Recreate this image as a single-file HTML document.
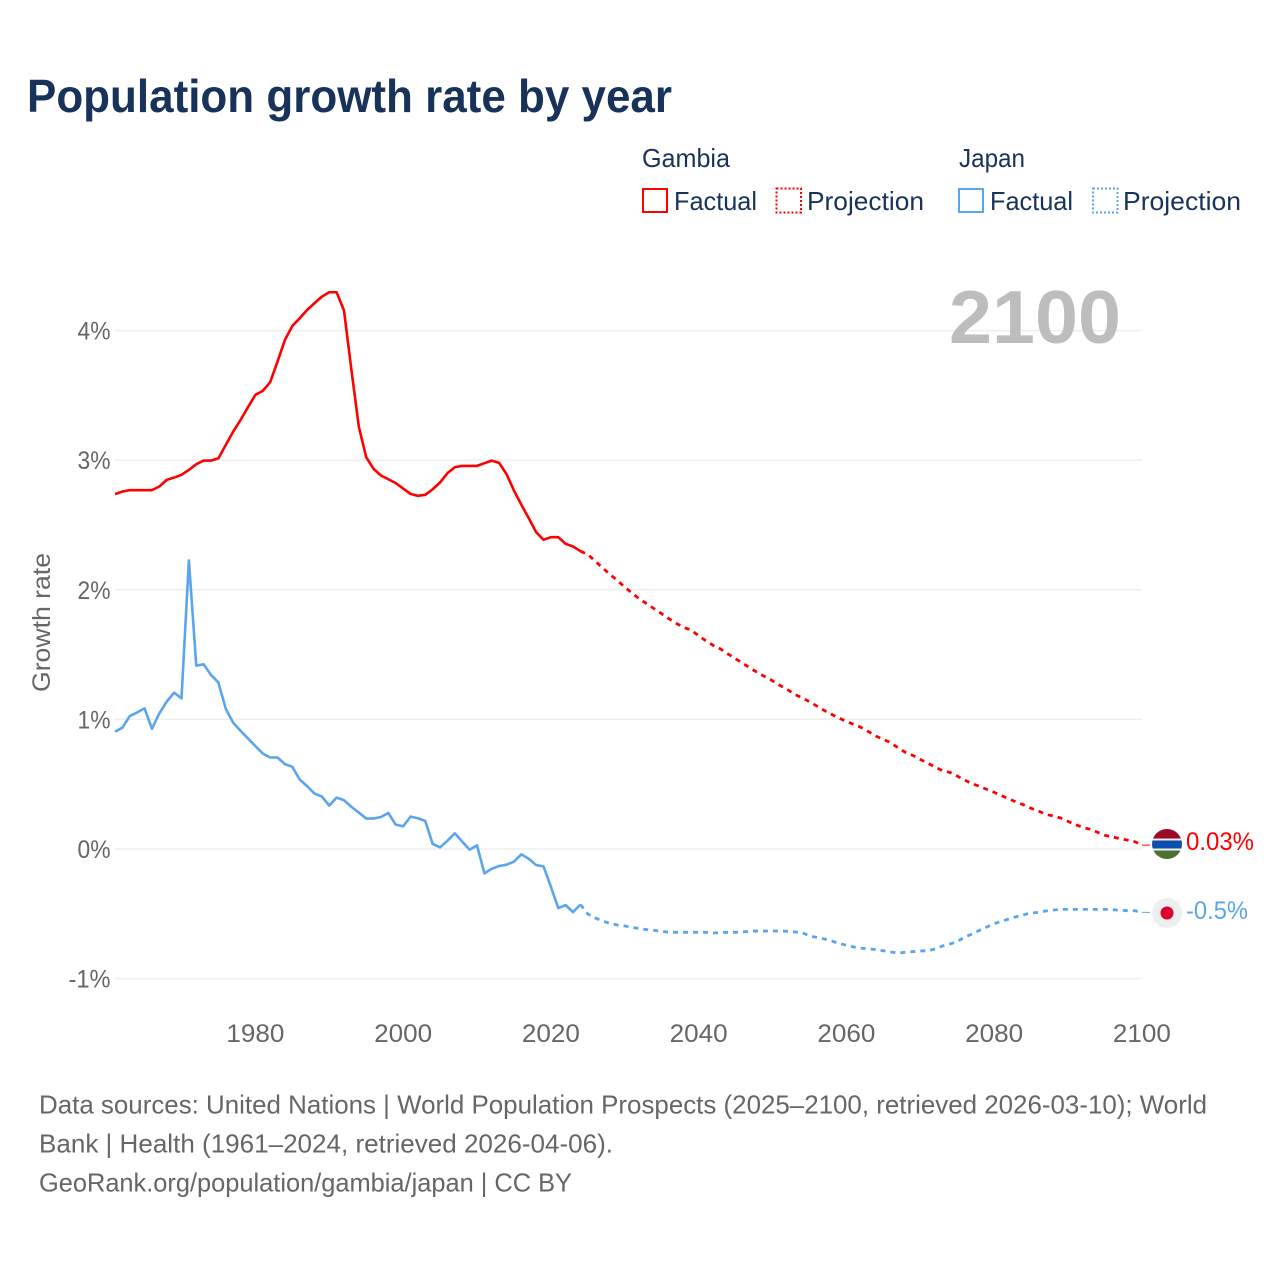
<!DOCTYPE html>
<html lang="en">
<head>
<meta charset="utf-8">
<title>Population growth rate by year</title>
<style>
html,body{margin:0;padding:0;background:#fff;}
svg{display:block;}
text{font-family:"Liberation Sans",sans-serif;}
</style>
</head>
<body>
<svg id="chart" xmlns="http://www.w3.org/2000/svg" width="1280" height="1280" viewBox="0 0 1280 1280">
  <rect x="0" y="0" width="1280" height="1280" fill="#ffffff"/>
  <text x="27" y="112" font-size="46" font-weight="700" fill="#18325a" textLength="645" lengthAdjust="spacingAndGlyphs">Population growth rate by year</text>

  <g font-size="26" fill="#18325a">
    <text x="642" y="167" textLength="88" lengthAdjust="spacingAndGlyphs">Gambia</text>
    <text x="959" y="167" textLength="66" lengthAdjust="spacingAndGlyphs">Japan</text>
    <rect x="643" y="189" width="24" height="23" fill="none" stroke="#ff0000" stroke-width="2"/>
    <text x="674" y="210" textLength="83" lengthAdjust="spacingAndGlyphs">Factual</text>
    <rect x="776.5" y="188.5" width="24.5" height="24" fill="none" stroke="#ff0000" stroke-width="2" stroke-dasharray="2 2"/>
    <text x="807" y="210" textLength="117" lengthAdjust="spacingAndGlyphs">Projection</text>
    <rect x="959" y="189" width="24" height="23" fill="none" stroke="#5ba4ee" stroke-width="2"/>
    <text x="990" y="210" textLength="83" lengthAdjust="spacingAndGlyphs">Factual</text>
    <rect x="1093" y="188.5" width="24.5" height="24" fill="none" stroke="#5ba4ee" stroke-width="2" stroke-dasharray="2 2"/>
    <text x="1123" y="210" textLength="118" lengthAdjust="spacingAndGlyphs">Projection</text>
  </g>

  <g id="grid"></g>
  <text x="949" y="343" font-size="75" font-weight="700" fill="#bdbdbd" textLength="172" lengthAdjust="spacingAndGlyphs">2100</text>
  <g id="yticks" font-size="25" fill="#666666"></g>
  <g id="xticks" font-size="25" fill="#666666"></g>
  <text transform="translate(50,622.5) rotate(-90)" text-anchor="middle" font-size="25" fill="#666666" textLength="139" lengthAdjust="spacingAndGlyphs">Growth rate</text>
  <g id="series"></g>

  <g>
    <clipPath id="gm-clip"><circle cx="1167" cy="844" r="15"/></clipPath>
    <g clip-path="url(#gm-clip)">
      <rect x="1152" y="829" width="30" height="9.5" fill="#9a0a27"/>
      <rect x="1152" y="838.5" width="30" height="2" fill="#f4e8ea"/>
      <rect x="1152" y="840.5" width="30" height="8" fill="#0a50b0"/>
      <rect x="1152" y="848.5" width="30" height="2" fill="#eef2ea"/>
      <rect x="1152" y="850.5" width="30" height="8.5" fill="#4b7030"/>
    </g>
  </g>
  <g>
    <circle cx="1167" cy="913" r="15" fill="#eeeeee"/>
    <circle cx="1167" cy="913" r="6.5" fill="#dc002e"/>
  </g>
  <text id="label-gambia" x="1186" y="850" font-size="25" fill="#ff0000" textLength="68" lengthAdjust="spacingAndGlyphs">0.03%</text>
  <text id="label-japan" x="1186" y="919" font-size="25" fill="#5ba4ee" textLength="62" lengthAdjust="spacingAndGlyphs">-0.5%</text>

  <g font-size="26" fill="#666666">
    <text x="39" y="1113.5" textLength="1168" lengthAdjust="spacingAndGlyphs">Data sources: United Nations | World Population Prospects (2025–2100, retrieved 2026-03-10); World</text>
    <text x="39" y="1152.5" textLength="574" lengthAdjust="spacingAndGlyphs">Bank | Health (1961–2024, retrieved 2026-04-06).</text>
    <text x="39" y="1191.5" textLength="533" lengthAdjust="spacingAndGlyphs">GeoRank.org/population/gambia/japan | CC BY</text>
  </g>
</svg>
<script>
const factualStartYear = 1961;
const projectionStartYear = 2024;
const gambiaFactual = [2.738,2.758,2.769,2.769,2.769,2.769,2.797,2.848,2.866,2.887,2.925,2.969,2.997,2.997,3.015,3.118,3.221,3.311,3.409,3.504,3.535,3.602,3.761,3.928,4.036,4.095,4.159,4.211,4.262,4.296,4.296,4.154,3.697,3.26,3.023,2.933,2.882,2.853,2.823,2.781,2.74,2.725,2.733,2.776,2.828,2.9,2.946,2.956,2.956,2.956,2.977,2.997,2.979,2.892,2.766,2.656,2.553,2.445,2.386,2.406,2.406,2.355,2.334,2.298];
const japanFactual = [0.905,0.936,1.026,1.054,1.085,0.928,1.046,1.137,1.206,1.162,2.227,1.415,1.425,1.343,1.284,1.08,0.974,0.912,0.853,0.794,0.737,0.706,0.706,0.655,0.634,0.536,0.485,0.428,0.405,0.335,0.397,0.376,0.325,0.281,0.235,0.235,0.247,0.278,0.188,0.175,0.25,0.237,0.216,0.039,0.013,0.064,0.121,0.057,-0.005,0.028,-0.188,-0.152,-0.131,-0.121,-0.098,-0.041,-0.075,-0.124,-0.134,-0.291,-0.456,-0.433,-0.487,-0.428];
const gambiaProjection = [2.298,2.273,2.221,2.17,2.118,2.072,2.021,1.974,1.928,1.892,1.853,1.815,1.776,1.74,1.709,1.689,1.645,1.606,1.57,1.542,1.504,1.468,1.432,1.396,1.36,1.329,1.298,1.262,1.231,1.193,1.167,1.136,1.103,1.069,1.039,1.01,0.985,0.961,0.938,0.905,0.871,0.846,0.82,0.781,0.745,0.722,0.691,0.663,0.632,0.604,0.591,0.563,0.532,0.504,0.484,0.46,0.437,0.412,0.386,0.363,0.34,0.314,0.293,0.267,0.255,0.239,0.213,0.188,0.167,0.152,0.129,0.105,0.093,0.08,0.069,0.057,0.03];
const japanProjection = [-0.428,-0.502,-0.532,-0.556,-0.574,-0.586,-0.594,-0.604,-0.615,-0.622,-0.628,-0.635,-0.643,-0.643,-0.643,-0.643,-0.643,-0.643,-0.648,-0.645,-0.643,-0.643,-0.64,-0.633,-0.633,-0.633,-0.633,-0.633,-0.635,-0.64,-0.645,-0.671,-0.682,-0.694,-0.71,-0.728,-0.743,-0.756,-0.766,-0.769,-0.777,-0.785,-0.795,-0.802,-0.797,-0.792,-0.787,-0.785,-0.772,-0.748,-0.733,-0.715,-0.679,-0.656,-0.628,-0.602,-0.576,-0.558,-0.54,-0.522,-0.507,-0.494,-0.489,-0.478,-0.471,-0.466,-0.466,-0.466,-0.466,-0.466,-0.466,-0.466,-0.468,-0.473,-0.476,-0.476,-0.489];
const yTickValues = [-1,0,1,2,3,4];
const xTickValues = [1980,2000,2020,2040,2060,2080,2100];

const SVGNS = 'http://www.w3.org/2000/svg';
function xScale(year){ return 115 + (year - 1961) * 7.388; }
function yScale(val){ return 849 - val * 129.6; }
function pathFrom(values, startYear){
  return values.map(function(v, i){
    return (i ? 'L' : 'M') + xScale(startYear + i).toFixed(2) + ' ' + yScale(v).toFixed(2);
  }).join(' ');
}
const grid = document.getElementById('grid');
const yticks = document.getElementById('yticks');
const xticks = document.getElementById('xticks');
const seriesGroup = document.getElementById('series');

yTickValues.forEach(function(v){
  const line = document.createElementNS(SVGNS, 'line');
  
  
  line.setAttribute('x1', 115);
  line.setAttribute('x2', xScale(2100));
  line.setAttribute('y1', yScale(v));
  line.setAttribute('y2', yScale(v));
  line.setAttribute('stroke', '#eeeeee');
  line.setAttribute('stroke-width', '1.5');
  grid.appendChild(line);
  const label = document.createElementNS(SVGNS, 'text');
  
  
  label.setAttribute('x', 110.5);
  label.setAttribute('y', yScale(v) + 9);
  label.setAttribute('text-anchor', 'end');
  label.setAttribute('textLength', v < 0 ? 42 : 33);
  label.setAttribute('lengthAdjust', 'spacingAndGlyphs');
  label.textContent = v + '%';
  yticks.appendChild(label);
});
xTickValues.forEach(function(yr){
  const label = document.createElementNS(SVGNS, 'text');
  
  
  label.setAttribute('x', xScale(yr));
  label.setAttribute('y', 1042);
  label.setAttribute('text-anchor', 'middle');
  label.setAttribute('textLength', 58);
  label.setAttribute('lengthAdjust', 'spacingAndGlyphs');
  label.textContent = yr;
  xticks.appendChild(label);
});

function addSeries(name, values, startYear, color, dashed){
  const p = document.createElementNS(SVGNS, 'path');
  
  
  p.setAttribute('d', pathFrom(values, startYear));
  p.setAttribute('fill', 'none');
  p.setAttribute('stroke', color);
  p.setAttribute('stroke-width', dashed ? '2.8' : '2.6');
  p.setAttribute('stroke-linejoin', 'round');
  if (dashed) p.setAttribute('stroke-dasharray', '5 5');
  seriesGroup.appendChild(p);
}
addSeries('gambia-factual-line', gambiaFactual, factualStartYear, '#ff0000', false);
addSeries('japan-factual-line', japanFactual, factualStartYear, '#5ba4ee', false);
addSeries('gambia-projection-line', gambiaProjection, projectionStartYear, '#ff0000', true);
addSeries('japan-projection-line', japanProjection, projectionStartYear, '#5ba4ee', true);

function addLeader(name, value, color){
  const l = document.createElementNS(SVGNS, 'line');
  
  
  l.setAttribute('x1', xScale(2100));
  l.setAttribute('x2', 1150);
  l.setAttribute('y1', yScale(value));
  l.setAttribute('y2', yScale(value));
  l.setAttribute('stroke', color);
  l.setAttribute('stroke-width', '1');
  seriesGroup.appendChild(l);
}
addLeader('gambia-leader-line', gambiaProjection[gambiaProjection.length - 1], '#ff0000');
addLeader('japan-leader-line', japanProjection[japanProjection.length - 1], '#5ba4ee');
</script>
</body>
</html>
